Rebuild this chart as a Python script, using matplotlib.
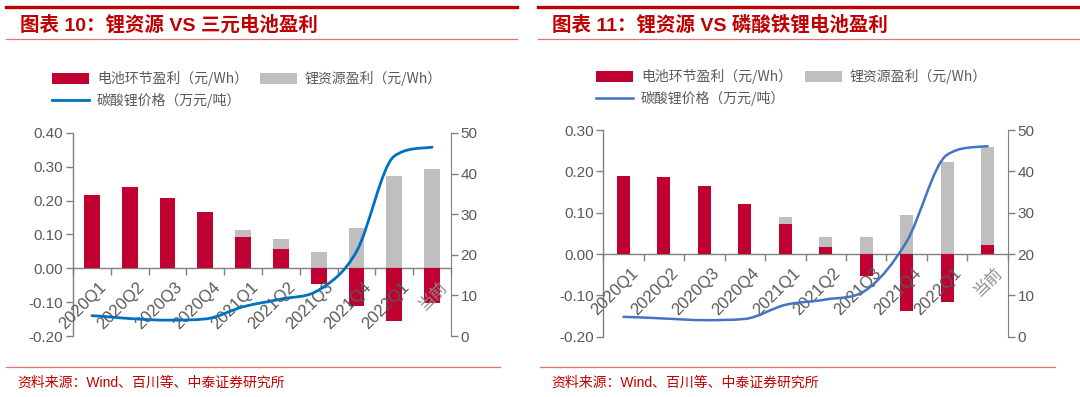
import matplotlib
matplotlib.use("Agg")
import matplotlib.pyplot as plt
import numpy as np
from matplotlib.path import Path
from matplotlib.patches import PathPatch
from matplotlib.lines import Line2D

plt.rcParams["font.family"] = ["Liberation Sans", "Noto Sans CJK SC", "DejaVu Sans"]

CATEGORIES = ["2020Q1", "2020Q2", "2020Q3", "2020Q4", "2021Q1", "2021Q2",
              "2021Q3", "2021Q4", "2022Q1", "当前"]

# 图表10: 三元
NCM_BATTERY = [0.216, 0.241, 0.208, 0.167, 0.092, 0.056, -0.045, -0.110, -0.155, -0.101]
NCM_LITHIUM = [0.0, 0.0, -0.003, 0.0, 0.114, 0.087, 0.049, 0.118, 0.274, 0.295]
NCM_PRICE = [5.0, 4.3, 3.9, 4.2, 7.2, 9.1, 11.3, 20.8, 44.3, 46.5]

# 图表11: 磷酸铁锂
LFP_BATTERY = [0.189, 0.186, 0.165, 0.122, 0.073, 0.018, -0.053, -0.137, -0.116, 0.022]
LFP_LITHIUM = [0.0, 0.0, -0.003, 0.0, 0.090, 0.042, 0.040, 0.095, 0.223, 0.260]
LFP_PRICE = [4.8, 4.4, 4.0, 4.3, 7.7, 9.0, 11.3, 23.0, 44.0, 46.1]

RED = "#C00030"
GREY = "#BFBFBF"
AXIS = "#808080"
TXT = "#595959"
TITLE_RED = "#C00000"
W, H = 1080.0, 397.0


def smooth_path(xs, ys):
    # smoothed line through every point (monotone cubic, no overshoot)
    xs = np.asarray(xs, float)
    ys = np.asarray(ys, float)
    n = len(xs)
    d = np.diff(ys) / np.diff(xs)
    m = np.zeros(n)
    m[0], m[-1] = d[0] / 2, d[-1] / 2
    for i in range(1, n - 1):
        if d[i - 1] * d[i] <= 0:
            m[i] = 0.0
        else:
            m[i] = (d[i - 1] + d[i]) / 2
            lim = 3 * min(abs(d[i - 1]), abs(d[i]))
            m[i] = np.sign(m[i]) * min(abs(m[i]), lim)
    verts = [(xs[0], ys[0])]
    codes = [Path.MOVETO]
    for i in range(n - 1):
        h = xs[i + 1] - xs[i]
        verts += [(xs[i] + h / 3, ys[i] + m[i] * h / 3),
                  (xs[i + 1] - h / 3, ys[i + 1] - m[i + 1] * h / 3),
                  (xs[i + 1], ys[i + 1])]
        codes += [Path.CURVE4] * 3
    return Path(verts, codes)


def draw_panel(fig, rect, battery, lithium, price, ylim, yticks, bar_w, line_color, lw):
    ax = fig.add_axes(rect)
    x = np.arange(len(CATEGORIES))
    ax.bar(x, lithium, width=bar_w, color=GREY, zorder=2)
    ax.bar(x, battery, width=bar_w, color=RED, zorder=3)
    ax.set_xlim(-0.5, len(CATEGORIES) - 0.5)
    ax.set_ylim(*ylim)
    ax.set_yticks(yticks)
    ax.set_yticklabels([f"{v:.2f}" for v in yticks])
    ax.spines["top"].set_visible(False)
    ax.spines["right"].set_visible(False)
    ax.spines["bottom"].set_position(("data", 0))
    for s in ("left", "bottom"):
        ax.spines[s].set_color(AXIS)
        ax.spines[s].set_linewidth(1.0)
    ax.set_xticks(np.arange(-0.5, len(CATEGORIES), 1.0))
    ax.set_xticklabels([])
    ax.tick_params(axis="x", direction="out", length=5, color=AXIS, width=1.0)
    ax.tick_params(axis="y", direction="out", length=5, color=AXIS, width=1.0,
                   labelsize=11, labelcolor=TXT, pad=2)
    for i, lab in enumerate(CATEGORIES):
        ax.annotate(lab, (i, 0), xytext=(5, -8), textcoords="offset points",
                    rotation=45, ha="right", va="top", rotation_mode="anchor",
                    fontsize=12, color=TXT if lab != "当前" else "#8C8C8C",
                    annotation_clip=False, zorder=5)

    ax2 = ax.twinx()
    ax2.set_ylim(0, 50)
    ax2.set_yticks(range(0, 51, 10))
    for s in ("top", "left", "bottom"):
        ax2.spines[s].set_visible(False)
    ax2.spines["right"].set_color(AXIS)
    ax2.tick_params(axis="y", direction="out", length=5, color=AXIS, width=1.0,
                    labelsize=11, labelcolor=TXT, pad=2)
    ax2.add_patch(PathPatch(smooth_path(x, price), facecolor="none",
                            edgecolor=line_color, linewidth=lw,
                            capstyle="round", zorder=6))
    ax2.set_zorder(ax.get_zorder() + 1)
    ax2.patch.set_visible(False)
    return ax, ax2


def header(fig, x0, x1, title):
    fig.add_artist(Line2D([x0, x1], [1 - 7.3 / H] * 2, color=TITLE_RED, lw=2.4,
                          transform=fig.transFigure))
    fig.add_artist(Line2D([x0, x1], [1 - 39.3 / H] * 2, color="#E57373", lw=0.9,
                          transform=fig.transFigure))
    fig.text(x0 + 14 / W, 1 - 25 / H, title, fontsize=14, fontweight="bold",
             color=TITLE_RED, va="center", ha="left",
             family=["Liberation Sans", "Noto Sans CJK SC"])


def footer(fig, x0, x1):
    fig.add_artist(Line2D([x0, x1], [1 - 366.7 / H] * 2, color="#E57373", lw=0.9,
                          transform=fig.transFigure))
    fig.text(x0 + 11 / W, 1 - 383 / H, "资料来源：Wind、百川等、中泰证券研究所",
             fontsize=10, color=TITLE_RED, va="center", ha="left",
             family=["Liberation Sans", "Noto Sans CJK SC"])


def legend(fig, x0, y0, gap_x, line_color, lw):
    items = [(RED, "电池环节盈利（元/Wh）"), (GREY, "锂资源盈利（元/Wh）")]
    leg_font = dict(fontsize=10, color=TXT, va="center", ha="left",
                    family=["Noto Sans CJK SC", "DejaVu Sans"])
    for k, (col, lab) in enumerate(items):
        bx = x0 + k * gap_x
        fig.add_artist(plt.Rectangle((bx / W, 1 - (y0 + 5.5) / H), 37 / W, 11 / H,
                                     facecolor=col, edgecolor="none",
                                     transform=fig.transFigure))
        fig.text((bx + 45) / W, 1 - y0 / H, lab, **leg_font)
    fig.add_artist(Line2D([x0 / W, (x0 + 37) / W], [1 - (y0 + 22) / H] * 2,
                          color=line_color, lw=lw, transform=fig.transFigure))
    fig.text((x0 + 45) / W, 1 - (y0 + 22) / H, "碳酸锂价格（万元/吨）", **leg_font)


fig = plt.figure(figsize=(10.8, 3.97), dpi=100)
fig.patch.set_facecolor("white")

draw_panel(fig, [73 / W, 1 - 336 / H, 378 / W, 203 / H],
           NCM_BATTERY, NCM_LITHIUM, NCM_PRICE, (-0.2, 0.4),
           np.round(np.arange(-0.2, 0.41, 0.1), 2), 0.42, "#0070C0", 2.0)
draw_panel(fig, [603.3 / W, 1 - 336.7 / H, 404.4 / W, 206.7 / H],
           LFP_BATTERY, LFP_LITHIUM, LFP_PRICE, (-0.2, 0.3),
           np.round(np.arange(-0.2, 0.31, 0.1), 2), 0.32, "#4472C4", 1.8)

header(fig, 6 / W, 516.7 / W, "图表 10：锂资源 VS 三元电池盈利")
header(fig, 538.3 / W, 1.0, "图表 11：锂资源 VS 磷酸铁锂电池盈利")
footer(fig, 6 / W, 500 / W)
footer(fig, 540 / W, 1055 / W)

legend(fig, 52, 78, 208, "#0070C0", 2.0)
legend(fig, 596, 76, 209, "#4472C4", 1.8)

fig.savefig("out.png", dpi=100, facecolor="white")
